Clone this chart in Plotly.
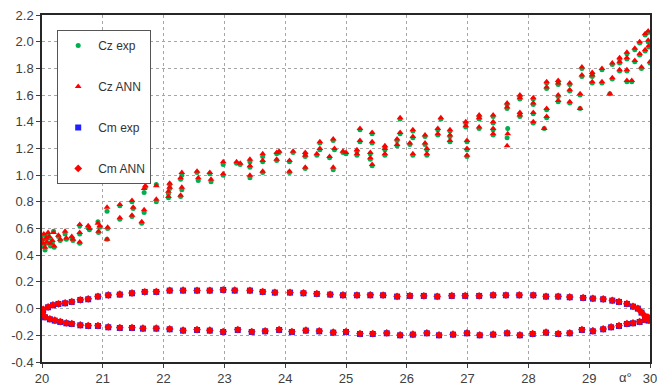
import plotly.graph_objects as go

# Lift coefficient Cz vs angle of attack: experiment and ANN prediction
alpha_cz = [
    20.00, 20.02, 20.03, 20.05, 20.07, 20.08, 20.10, 20.12, 20.14, 20.17, 20.19, 20.20,
    20.27, 20.30, 20.38, 20.40, 20.49, 20.51, 20.62, 20.62, 20.62, 20.76, 20.78,
    20.92, 20.93, 20.95, 21.07, 21.08, 21.07, 21.28, 21.28, 21.48, 21.48, 21.50,
    21.64, 21.68, 21.68, 21.70, 21.88, 21.88, 22.08, 22.10, 22.10, 22.08,
    22.30, 22.28, 22.30, 22.28, 22.55, 22.57, 22.76, 22.78, 22.98, 22.98,
    23.20, 23.26, 23.42, 23.42, 23.42, 23.63, 23.63, 23.63, 23.86, 23.86, 23.90,
    24.07, 24.07, 24.13, 24.33, 24.33, 24.33, 24.52, 24.57, 24.57, 24.73, 24.79,
    24.79, 24.81, 24.95, 25.00, 25.18, 25.18, 25.23, 25.23, 25.40, 25.40, 25.43,
    25.43, 25.43, 25.64, 25.64, 25.64, 25.84, 25.84, 25.89, 25.89, 26.05, 26.10,
    26.10, 26.10, 26.30, 26.30, 26.33, 26.33, 26.51, 26.51, 26.56, 26.71, 26.71,
    26.71, 26.97, 26.97, 26.99, 26.99, 26.99, 27.19, 27.19, 27.19, 27.42, 27.42,
    27.42, 27.42, 27.65, 27.65, 27.66, 27.65, 27.86, 27.86, 27.86, 27.86, 28.08,
    28.08, 28.08, 28.08, 28.26, 28.30, 28.30, 28.30, 28.30, 28.49, 28.49, 28.49,
    28.49, 28.68, 28.68, 28.68, 28.85, 28.85, 28.88, 28.88, 29.05, 29.05, 29.05,
    29.21, 29.21, 29.34, 29.38, 29.38, 29.50, 29.50, 29.50, 29.62, 29.62, 29.62,
    29.62, 29.70, 29.75, 29.75, 29.83, 29.83, 29.86, 29.92, 29.92, 29.97, 29.97,
    30.00, 29.98,
]
cz_exp = [
    0.50, 0.47, 0.55, 0.44, 0.52, 0.49, 0.56, 0.53, 0.47, 0.50, 0.58, 0.46,
    0.54, 0.51, 0.56, 0.52, 0.53, 0.51, 0.62, 0.56, 0.49, 0.61, 0.59,
    0.65, 0.57, 0.61, 0.73, 0.60, 0.52, 0.77, 0.67, 0.80, 0.69, 0.75,
    0.64, 0.72, 0.87, 0.91, 0.93, 0.80, 0.86, 0.93, 0.90, 0.83,
    1.00, 0.97, 0.89, 0.84, 1.02, 0.96, 1.01, 0.95, 1.08, 1.00,
    1.09, 1.08, 1.10, 1.06, 0.98, 1.14, 1.10, 1.02, 1.16, 1.11, 1.17,
    1.10, 1.02, 1.17, 1.16, 1.14, 1.05, 1.15, 1.24, 1.19, 1.13, 1.26,
    1.04, 1.19, 1.17, 1.16, 1.18, 1.15, 1.34, 1.25, 1.16, 1.12, 1.31,
    1.24, 1.07, 1.21, 1.19, 1.15, 1.26, 1.22, 1.42, 1.31, 1.23, 1.33,
    1.28, 1.15, 1.29, 1.23, 1.19, 1.15, 1.34, 1.30, 1.42, 1.33, 1.29,
    1.25, 1.39, 1.36, 1.25, 1.19, 1.14, 1.44, 1.42, 1.35, 1.44, 1.39,
    1.34, 1.30, 1.53, 1.50, 1.35, 1.28, 1.59, 1.57, 1.46, 1.44, 1.57,
    1.53, 1.46, 1.39, 1.35, 1.49, 1.43, 1.69, 1.65, 1.70, 1.68, 1.59,
    1.55, 1.68, 1.63, 1.54, 1.60, 1.50, 1.80, 1.74, 1.76, 1.74, 1.69,
    1.79, 1.69, 1.61, 1.83, 1.72, 1.87, 1.84, 1.78, 1.91, 1.87, 1.78,
    1.70, 1.70, 1.94, 1.85, 1.99, 1.90, 1.80, 2.05, 1.93, 2.07, 2.00,
    1.84, 1.96,
]
cz_ann = [
    0.52, 0.49, 0.56, 0.46, 0.53, 0.50, 0.57, 0.54, 0.49, 0.51, 0.57, 0.47,
    0.55, 0.52, 0.58, 0.53, 0.54, 0.52, 0.63, 0.57, 0.50, 0.62, 0.60,
    0.64, 0.58, 0.62, 0.76, 0.61, 0.52, 0.78, 0.68, 0.81, 0.70, 0.76,
    0.65, 0.74, 0.90, 0.92, 0.92, 0.82, 0.88, 0.94, 0.91, 0.84,
    1.02, 0.98, 0.91, 0.85, 1.03, 0.98, 1.02, 0.97, 1.10, 1.01,
    1.10, 1.09, 1.12, 1.07, 1.00, 1.16, 1.11, 1.03, 1.17, 1.12, 1.18,
    1.11, 1.03, 1.18, 1.17, 1.15, 1.06, 1.16, 1.25, 1.20, 1.14, 1.27,
    1.06, 1.20, 1.18, 1.17, 1.19, 1.16, 1.35, 1.26, 1.17, 1.13, 1.32,
    1.25, 1.08, 1.22, 1.20, 1.16, 1.27, 1.23, 1.43, 1.32, 1.24, 1.34,
    1.29, 1.16, 1.30, 1.24, 1.20, 1.16, 1.35, 1.31, 1.43, 1.34, 1.30,
    1.26, 1.40, 1.37, 1.26, 1.20, 1.15, 1.45, 1.43, 1.36, 1.45, 1.40,
    1.35, 1.31, 1.54, 1.51, 1.31, 1.22, 1.60, 1.58, 1.47, 1.45, 1.58,
    1.54, 1.47, 1.40, 1.35, 1.50, 1.44, 1.70, 1.66, 1.71, 1.69, 1.60,
    1.56, 1.69, 1.64, 1.55, 1.61, 1.50, 1.81, 1.75, 1.77, 1.75, 1.70,
    1.80, 1.70, 1.61, 1.84, 1.73, 1.88, 1.85, 1.79, 1.92, 1.88, 1.79,
    1.71, 1.71, 1.95, 1.86, 2.00, 1.91, 1.81, 2.06, 1.94, 2.08, 2.01,
    1.85, 1.97,
]

# Pitching moment Cm loop: upper branch 20 -> 30, lower branch 30 -> 20
alpha_cm = [
    20.00, 20.02, 20.10, 20.18, 20.27, 20.38, 20.49, 20.63, 20.76, 20.92, 21.09,
    21.28, 21.48, 21.69, 21.88, 22.10, 22.32, 22.55, 22.76, 22.98, 23.17, 23.42,
    23.63, 23.83, 24.08, 24.30, 24.52, 24.74, 24.95, 25.18, 25.40, 25.61, 25.84,
    26.05, 26.28, 26.50, 26.74, 26.96, 27.19, 27.42, 27.63, 27.85, 28.08, 28.29,
    28.49, 28.68, 28.90, 29.06, 29.23, 29.38, 29.49, 29.62, 29.72, 29.80, 29.86,
    29.92, 29.97,
    30.00, 29.98, 29.92, 29.83, 29.72, 29.62, 29.49, 29.36, 29.23, 29.06, 28.88,
    28.68, 28.49, 28.29, 28.07, 27.86, 27.65, 27.42, 27.20, 26.99, 26.76, 26.53,
    26.33, 26.10, 25.89, 25.67, 25.44, 25.23, 25.00, 24.79, 24.56, 24.34, 24.11,
    23.90, 23.67, 23.45, 23.22, 22.98, 22.76, 22.55, 22.32, 22.10, 21.88, 21.66,
    21.48, 21.28, 21.09, 20.92, 20.76, 20.63, 20.49, 20.40, 20.30, 20.21, 20.13,
    20.05, 20.01,
]
cm_exp = [
    -0.030, -0.010, 0.010, 0.025, 0.035, 0.040, 0.050, 0.065, 0.070, 0.090, 0.100,
    0.105, 0.115, 0.125, 0.125, 0.135, 0.135, 0.135, 0.135, 0.140, 0.135, 0.135,
    0.125, 0.120, 0.120, 0.115, 0.110, 0.105, 0.100, 0.100, 0.100, 0.100, 0.090,
    0.095, 0.095, 0.090, 0.095, 0.095, 0.095, 0.100, 0.100, 0.100, 0.100, 0.090,
    0.090, 0.085, 0.080, 0.075, 0.070, 0.060, 0.050, 0.035, 0.015, 0.000, -0.030,
    -0.060, -0.070,
    -0.075, -0.090, -0.085, -0.100, -0.110, -0.115, -0.130, -0.140, -0.155, -0.170, -0.160,
    -0.185, -0.190, -0.180, -0.190, -0.200, -0.185, -0.195, -0.200, -0.185, -0.195, -0.200,
    -0.185, -0.195, -0.200, -0.185, -0.190, -0.190, -0.175, -0.180, -0.170, -0.165, -0.175,
    -0.160, -0.170, -0.175, -0.160, -0.175, -0.165, -0.160, -0.165, -0.155, -0.150, -0.150,
    -0.145, -0.145, -0.140, -0.130, -0.130, -0.125, -0.115, -0.110, -0.100, -0.090, -0.080,
    -0.065, -0.050,
]
cm_ann = [
    -0.025, -0.005, 0.012, 0.028, 0.036, 0.043, 0.052, 0.066, 0.073, 0.092, 0.102,
    0.108, 0.117, 0.126, 0.128, 0.137, 0.138, 0.136, 0.137, 0.141, 0.138, 0.137,
    0.128, 0.122, 0.121, 0.118, 0.112, 0.107, 0.102, 0.101, 0.103, 0.101, 0.092,
    0.097, 0.096, 0.092, 0.097, 0.097, 0.096, 0.102, 0.101, 0.102, 0.101, 0.092,
    0.092, 0.087, 0.082, 0.077, 0.072, 0.062, 0.052, 0.037, 0.017, 0.002, -0.027,
    -0.057, -0.066,
    -0.072, -0.086, -0.082, -0.097, -0.107, -0.112, -0.127, -0.137, -0.152, -0.166, -0.157,
    -0.182, -0.187, -0.177, -0.187, -0.197, -0.182, -0.192, -0.197, -0.182, -0.192, -0.197,
    -0.182, -0.192, -0.197, -0.182, -0.187, -0.187, -0.172, -0.177, -0.167, -0.162, -0.172,
    -0.157, -0.167, -0.172, -0.157, -0.172, -0.162, -0.157, -0.162, -0.152, -0.147, -0.147,
    -0.142, -0.142, -0.137, -0.127, -0.127, -0.122, -0.112, -0.107, -0.097, -0.087, -0.077,
    -0.062, -0.045,
]

x_ticks = [20, 21, 22, 23, 24, 25, 26, 27, 28, 29, 30]
y_ticks = [-0.4, -0.2, 0.0, 0.2, 0.4, 0.6, 0.8, 1.0, 1.2, 1.4, 1.6, 1.8, 2.0, 2.2]

GREEN = "#00b050"
RED = "#ff0000"
BLUE = "#1f1fff"

fig = go.Figure()
fig.add_trace(go.Scatter(
    x=alpha_cz, y=cz_exp, mode="markers", name="Cz exp", legendgroup="a",
    marker=dict(symbol="circle", size=5, color=GREEN),
))
fig.add_trace(go.Scatter(
    x=alpha_cz, y=cz_ann, mode="markers", name="Cz ANN", legendgroup="b",
    marker=dict(symbol="triangle-up", size=6, color=RED),
))
fig.add_trace(go.Scatter(
    x=alpha_cm, y=cm_exp, mode="markers", name="Cm exp", legendgroup="c",
    marker=dict(symbol="square", size=6, color=BLUE),
))
fig.add_trace(go.Scatter(
    x=alpha_cm, y=cm_ann, mode="markers", name="Cm ANN", legendgroup="d",
    marker=dict(symbol="diamond", size=6, color=RED),
))

axis_font = dict(family="Liberation Sans, Arial, sans-serif", size=13, color="#404040")

fig.update_layout(
    width=657, height=389,
    margin=dict(l=42, r=7, t=15, b=27, autoexpand=False),
    paper_bgcolor="white", plot_bgcolor="white",
    showlegend=True,
    legend=dict(
        x=0.025, y=0.957, xanchor="left", yanchor="top",
        bgcolor="white", bordercolor="#555555", borderwidth=1,
        font=dict(family="Liberation Sans, Arial, sans-serif", size=12, color="#333333"),
        tracegroupgap=22, itemwidth=30,
    ),
    annotations=[dict(
        x=29.6, y=-0.045, xref="x", yref="paper", text="α°", showarrow=False,
        font=dict(family="Liberation Sans, Arial, sans-serif", size=13, color="#404040"),
        xanchor="center", yanchor="middle",
    )],
)
fig.update_xaxes(
    range=[20, 30], tickvals=x_ticks, ticktext=[str(v) for v in x_ticks],
    showgrid=True, gridcolor="#a6a6a6", griddash="dot", gridwidth=1,
    showline=True, linecolor="#262626", linewidth=1.5, mirror=True,
    ticks="outside", ticklen=4, tickcolor="#404040",
    tickfont=axis_font, zeroline=False, automargin=False,
    ticklabeloverflow="allow",
)
fig.update_yaxes(
    range=[-0.4, 2.2], tickvals=y_ticks, ticktext=[f"{v:.1f}" for v in y_ticks],
    showgrid=True, gridcolor="#a6a6a6", griddash="dot", gridwidth=1,
    showline=True, linecolor="#262626", linewidth=1.5, mirror=True,
    ticks="outside", ticklen=4, tickcolor="#404040",
    tickfont=axis_font, zeroline=False, automargin=False,
    ticklabeloverflow="allow",
)

fig.write_html("out.html")
